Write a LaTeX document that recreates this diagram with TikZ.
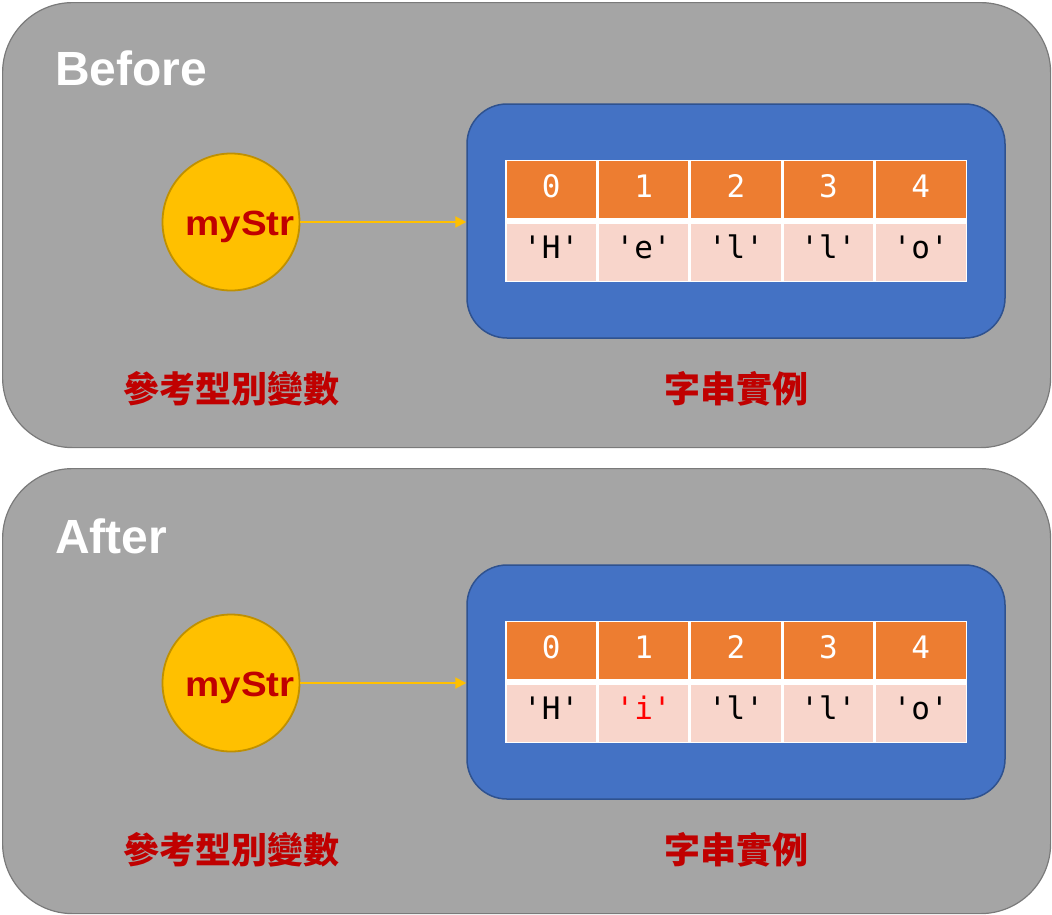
\documentclass[tikz,border=0pt]{standalone}
\usepackage{fontspec}
\usepackage{graphicx}
\setmainfont{Liberation Sans}
\newfontfamily\cjk{Noto Sans CJK TC}
\newfontfamily\monof{DejaVu Sans Mono}
\usetikzlibrary{arrows.meta}
\definecolor{panelgray}{HTML}{A5A5A5}
\definecolor{panelborder}{HTML}{7A7A7A}
\definecolor{instblue}{HTML}{4472C4}
\definecolor{instborder}{HTML}{2F528F}
\definecolor{idxorange}{HTML}{ED7D31}
\definecolor{valpink}{HTML}{F8D5CB}
\definecolor{refgold}{HTML}{FFC000}
\definecolor{refborder}{HTML}{BF9000}
\definecolor{darkred}{HTML}{C00000}
\newcommand\sq{\textquotesingle}
\tikzset{
  panel/.style={draw=panelborder, fill=panelgray, rounded corners=70, line width=1.2, inner sep=0, minimum width=1048},
  inst/.style={draw=instborder, fill=instblue, rounded corners=40, line width=1.5, minimum width=538, minimum height=234, inner sep=0},
  tablebg/.style={fill=white, minimum width=462, minimum height=122, inner sep=0},
  idxcell/.style={fill=idxorange, minimum width=89.4, minimum height=57, inner sep=0},
  valcell/.style={fill=valpink, minimum width=89.4, minimum height=57, inner sep=0},
  idxtxt/.style={text=white, font=\monof\fontsize{31}{35}\selectfont, inner sep=0, anchor=base},
  valtxt/.style={text=black, font=\monof\fontsize{31}{35}\selectfont, inner sep=0, anchor=base},
  refvar/.style={circle, draw=refborder, fill=refgold, line width=1.8, minimum size=137, inner sep=0},
  reftxt/.style={text=darkred, font=\bfseries\fontsize{35}{40}\selectfont, inner sep=0, anchor=base},
  titletxt/.style={text=white, font=\bfseries\fontsize{48}{56}\selectfont, inner sep=0, anchor=base west},
  cjklabel/.style={text=darkred, font=\cjk\bfseries\fontsize{36}{42}\selectfont, inner sep=0, anchor=base},
  ptr/.style={draw=refgold, line width=2, -{Triangle[length=11pt,width=11pt]}}
}
% #1 suffix, #2 panel top, #3 panel bottom, #4 title baseline, #5 title, #6 second value
\newcommand\strpanel[6]{%
  \node[panel, anchor=north west, minimum height={#3-#2}] (p#1) at (2,#2) {};
  \node[titletxt] (t#1) at (55,#4) {#5};
  \node[inst] (b#1) at (736,221) {};
  \node[tablebg] (tb#1) at (736,221) {};
  \foreach \i/\v in {0/{\sq H\sq},1/{#6},2/{\sq l\sq},3/{\sq l\sq},4/{\sq o\sq}} {
    \node[idxcell] (h#1\i) at ({551.2+92.4*\i},189.5) {};
    \node[idxtxt] (ht#1\i) at ([yshift=-7.5pt]h#1\i.center) {\i};
    \node[valcell] (v#1\i) at ({551.2+92.4*\i},252.5) {};
    \node[valtxt] (vt#1\i) at ([yshift=-5.5pt]v#1\i.center) {\v};
  }
  \node[refvar] (c#1) at (231,222) {};
  \node[reftxt] (m#1) at (240,235) {\scalebox{1.1}[1]{myStr}};
  \draw[ptr] (c#1) -- (b#1.west |- c#1);
  \node[cjklabel] (la#1) at (231,402) {參考型別變數};
  \node[cjklabel] (lb#1) at (736,402) {字串實例};
}
\begin{document}
\begin{tikzpicture}[x=1pt,y=-1pt]
\useasboundingbox (0,0) rectangle (1052,914);
\strpanel{A}{2}{447}{85}{Before}{\sq e\sq}
\begin{scope}[yshift=-461pt]
\strpanel{B}{7}{452}{92}{After}{\textcolor{red}{\sq i\sq}}
\end{scope}
\end{tikzpicture}
\end{document}
